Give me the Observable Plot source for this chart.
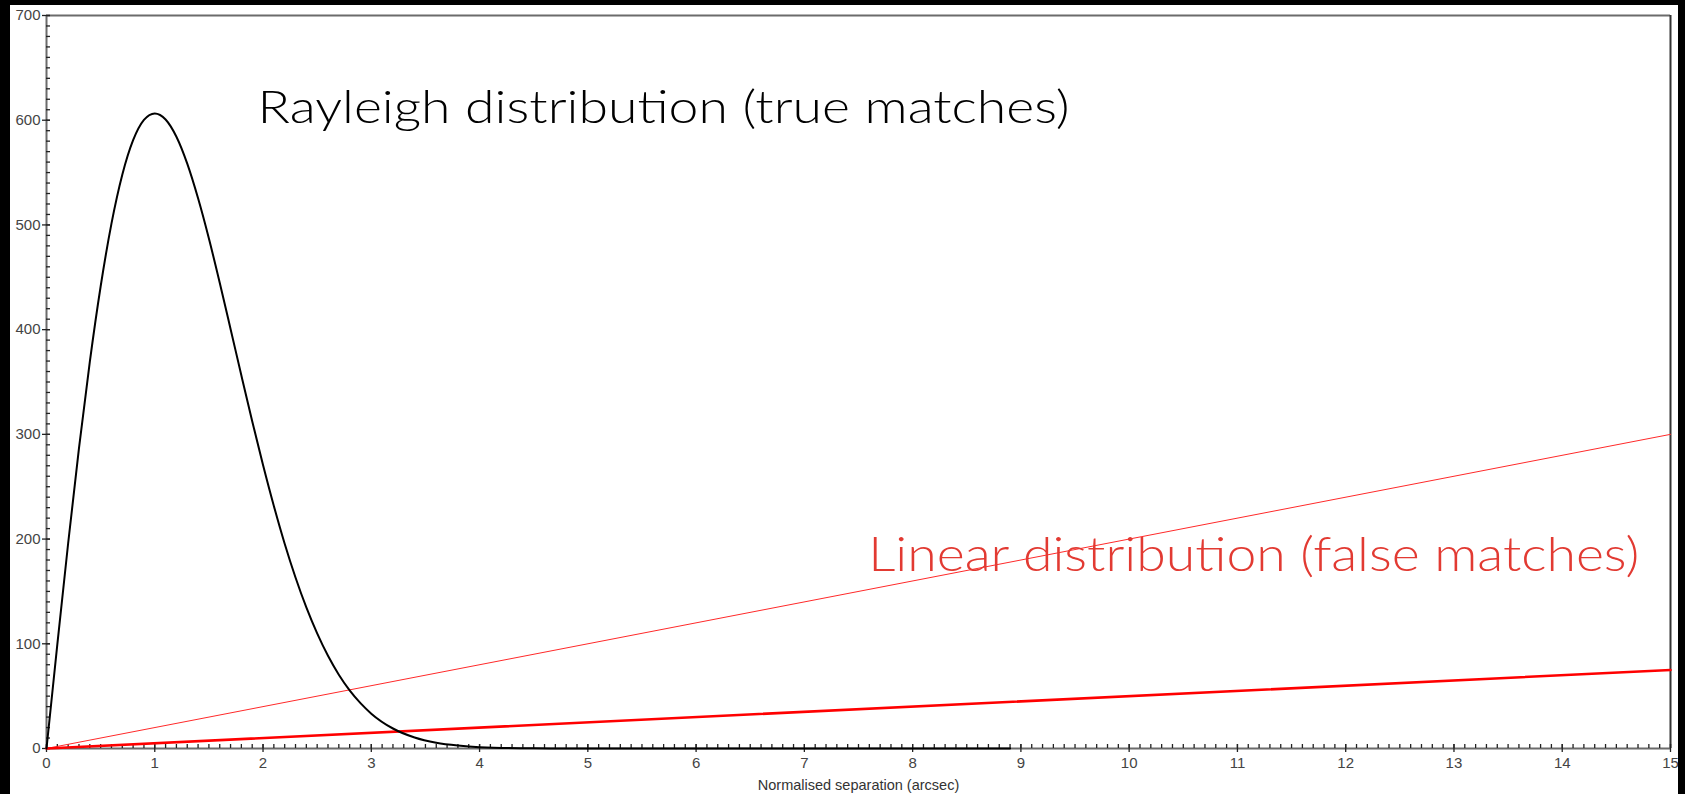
<!DOCTYPE html>
<html>
<head>
<meta charset="utf-8">
<script src="https://cdn.jsdelivr.net/npm/d3@7"></script>
<script src="https://cdn.jsdelivr.net/npm/@observablehq/plot@0.6"></script>
<style>
  html, body { margin: 0; padding: 0; background: #000; width: 1685px; height: 794px; overflow: hidden; }
  #wrap { position: absolute; left: 10px; top: 5px; width: 1668px; height: 789px; background: #fff; }
  svg { display: block; }
</style>
</head>
<body>
<div id="wrap"></div>
<script>
// Rayleigh curve (true matches)
const rayleighX = [0,0.1,0.2,0.3,0.4,0.5,0.6,0.7,0.8,0.9,1.0,1.1,1.2,1.3,1.4,1.5,1.6,1.7,1.8,1.9,2.0,2.1,2.2,2.3,2.4,2.5,2.6,2.7,2.8,2.9,3.0,3.2,3.4,3.6,3.8,4.0,4.5,5.0,6.0,7.0,8.0,8.9];
const rayleighY = [0,99.5,196,286.8,369.2,441.2,501.2,547.9,580.9,600.3,606.5,600.7,584.2,558.5,525.4,487,444.8,400.7,356.2,312.5,270.7,231.6,195.6,163.3,134.7,109.9,88.5,70.5,55.5,43.3,33.3,19.1,10.5,5.5,2.8,1.3,0.2,0,0,0,0,0];
// Linear distributions (false matches)
const linearX = [0, 15];
const linearThinY = [0, 300];
const linearThickY = [0, 75];
// Tick labels
const xTicks = d3.range(0, 16);
const yTicks = d3.range(0, 701, 100);
const xMinor = d3.range(0, 151).map(i => i / 10);
const yMinor = d3.range(0, 71).map(i => i * 10);
// Annotations
const labels = [
  {text: "Rayleigh distribution (true matches)", x: 1.95, y: 611, color: "#000", size: 46, len: 812},
  {text: "Linear distribution (false matches)", x: 7.59, y: 184, color: "#e23a32", size: 48, len: 771}
];
const xTitle = "Normalised separation (arcsec)";

const rayleigh = rayleighX.map((x, i) => ({x, y: rayleighY[i]}));
const thin = linearX.map((x, i) => ({x, y: linearThinY[i]}));
const thick = linearX.map((x, i) => ({x, y: linearThickY[i]}));

const axisColor = "#6b6b6b";
const tickColor = "#222";
const labelColor = "#444";

const chart = Plot.plot({
  width: 1668,
  height: 789,
  marginLeft: 36,
  marginRight: 8,
  marginTop: 10,
  marginBottom: 46,
  style: {background: "#fff", fontFamily: "Liberation Sans, Arial, sans-serif"},
  x: {domain: [0, 15], axis: null, label: null},
  y: {domain: [0, 700], axis: null, label: null},
  marks: [
    // frame / axis lines
    Plot.ruleY([700], {stroke: axisColor, strokeWidth: 2}),
    Plot.ruleX([15], {stroke: "#333", strokeWidth: 2}),
    Plot.ruleY([0], {stroke: axisColor, strokeWidth: 2}),
    Plot.ruleX([0], {stroke: axisColor, strokeWidth: 2}),
    // x ticks
    Plot.axisX({ticks: xMinor, tickSize: 4, dy: -4, text: null, label: null, stroke: tickColor, strokeWidth: 1.3}),
    Plot.axisX({ticks: xTicks, tickSize: 8, dy: -4, text: null, label: null, stroke: tickColor, strokeWidth: 1.3}),
    Plot.axisX({ticks: xTicks, tickSize: 0, tickPadding: 9, fontSize: 15, fill: labelColor, label: null, tickFormat: d3.format("d")}),
    // y ticks
    Plot.axisY({ticks: yMinor, tickSize: 4, dx: 4, text: null, label: null, stroke: tickColor, strokeWidth: 1.3}),
    Plot.axisY({ticks: yTicks, tickSize: 8, dx: 4, text: null, label: null, stroke: tickColor, strokeWidth: 1.3}),
    Plot.axisY({ticks: yTicks, tickSize: 0, tickPadding: 6, fontSize: 15, fill: labelColor, label: null, tickFormat: d3.format("d")}),
    // x axis title
    Plot.text([xTitle], {frameAnchor: "bottom", dy: 37, fontSize: 14.5, fill: "#333", lineAnchor: "middle"}),
    // data
    Plot.line(thin, {x: "x", y: "y", stroke: "#ff2a2a", strokeWidth: 1}),
    Plot.line(thick, {x: "x", y: "y", stroke: "#ff0000", strokeWidth: 2.6}),
    Plot.line(rayleigh, {x: "x", y: "y", stroke: "#000", strokeWidth: 2, curve: "monotone-x"}),
    // annotations
    Plot.text(labels, {x: "x", y: "y", text: "text", fill: "color", fontSize: d => d.size, textAnchor: "start", lineAnchor: "middle", fontFamily: "Lato, sans-serif", fontWeight: 300})
  ]
});

// Match annotation widths
d3.select(chart).selectAll("text").each(function() {
  const t = this.textContent;
  const l = labels.find(d => d.text === t);
  if (l) {
    this.setAttribute("textLength", l.len);
    this.setAttribute("lengthAdjust", "spacingAndGlyphs");
    this.setAttribute("font-size", l.size);
  }
});

document.getElementById("wrap").appendChild(chart);
</script>
</body>
</html>
